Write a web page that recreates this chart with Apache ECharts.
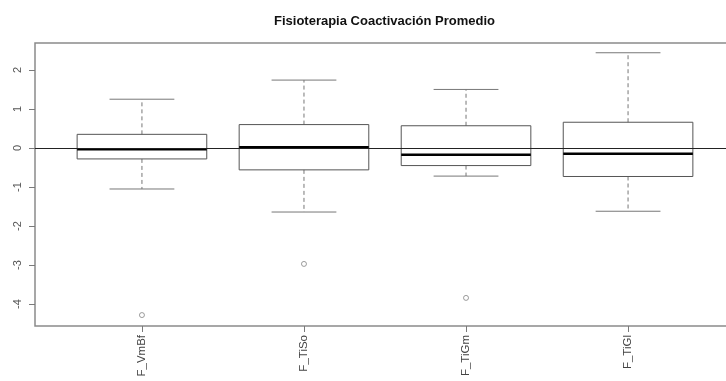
<!DOCTYPE html>
<html>
<head>
<meta charset="utf-8">
<script src="https://cdn.jsdelivr.net/npm/echarts@6/dist/echarts.min.js"></script>
<style>html,body{margin:0;padding:0;background:#fff}#c{width:726px;height:381px}</style>
</head>
<body>
<div id="c"></div>
<script>
const categories = ["F_VmBf", "F_TiSo", "F_TiGm", "F_TiGl"];
const lowerWhisker = [-1.05, -1.64, -0.72, -1.62];
const q1Values = [-0.28, -0.56, -0.45, -0.73];
const medians = [-0.03, 0.02, -0.17, -0.15];
const q3Values = [0.35, 0.60, 0.57, 0.66];
const upperWhisker = [1.25, 1.74, 1.50, 2.44];
const outlierGroup = [1, 2, 3];
const outlierValues = [-4.28, -2.97, -3.84];
const yTicks = [-4, -3, -2, -1, 0, 1, 2];
const xPositions = [1, 2, 3, 4];

const boxData = categories.map((c, i) => [xPositions[i], lowerWhisker[i], q1Values[i], medians[i], q3Values[i], upperWhisker[i]]);
const outData = outlierGroup.map((g, i) => [g, outlierValues[i]]);

const chart = echarts.init(document.getElementById('c'), null, {renderer: 'canvas'});
const gray = '#7a7a7a';
chart.setOption({
  animation: false,
  backgroundColor: '#fff',
  title: {
    text: 'Fisioterapia Coactivación Promedio',
    left: 269, top: 10,
    textStyle: {fontFamily: 'Liberation Sans, Arial', fontSize: 13, fontWeight: 'bold', color: '#111'}
  },
  grid: {left: 35, width: 700, top: 43, bottom: 55, outerBoundsMode: 'none', containLabel: false, show: true, borderColor: '#8a8a8a', borderWidth: 1.5, backgroundColor: 'transparent'},
  xAxis: {
    type: 'value', min: 0.34, max: 4.66,
    position: 'bottom',
    splitLine: {show: false},
    axisLine: {show: false, onZero: false},
    axisTick: {show: true, customValues: xPositions, length: 6, lineStyle: {color: gray, width: 1}},
    axisLabel: {
      customValues: xPositions, rotate: 90, margin: 9,
      fontFamily: 'Liberation Sans, Arial', fontSize: 11.5, color: '#444',
      formatter: v => categories[Math.round(v) - 1] || ''
    }
  },
  yAxis: {
    type: 'value', min: -4.56, max: 2.69,
    position: 'left',
    splitLine: {show: false},
    axisLine: {show: false, onZero: false},
    axisTick: {show: true, customValues: yTicks, length: 6, lineStyle: {color: gray, width: 1}},
    axisLabel: {
      customValues: yTicks, rotate: 90, margin: 12,
      fontFamily: 'Liberation Sans, Arial', fontSize: 11, color: '#555'
    }
  },
  series: [
    {
      type: 'custom',
      data: boxData,
      encode: {x: 0, y: [1, 2, 3, 4, 5]},
      renderItem: function (params, api) {
        const x = api.value(0);
        const pLow = api.coord([x, api.value(1)]);
        const pQ1 = api.coord([x, api.value(2)]);
        const pMed = api.coord([x, api.value(3)]);
        const pQ3 = api.coord([x, api.value(4)]);
        const pHigh = api.coord([x, api.value(5)]);
        const bandW = api.size([1, 0])[0];
        const boxHalf = bandW * 0.4;
        const capHalf = bandW * 0.2;
        const cx = pMed[0];
        const dash = {stroke: '#777', lineWidth: 1, lineDash: [4, 3]};
        return {
          type: 'group',
          children: [
            {type: 'line', shape: {x1: cx, y1: pQ3[1], x2: cx, y2: pHigh[1]}, style: dash},
            {type: 'line', shape: {x1: cx, y1: pQ1[1], x2: cx, y2: pLow[1]}, style: dash},
            {type: 'line', shape: {x1: cx - capHalf, y1: pHigh[1], x2: cx + capHalf, y2: pHigh[1]}, style: {stroke: '#777', lineWidth: 1}},
            {type: 'line', shape: {x1: cx - capHalf, y1: pLow[1], x2: cx + capHalf, y2: pLow[1]}, style: {stroke: '#777', lineWidth: 1}},
            {type: 'rect', shape: {x: cx - boxHalf, y: pQ3[1], width: boxHalf * 2, height: pQ1[1] - pQ3[1]}, style: {fill: 'rgba(255,255,255,0)', stroke: '#555', lineWidth: 1}},
            {type: 'line', shape: {x1: cx - boxHalf, y1: pMed[1], x2: cx + boxHalf, y2: pMed[1]}, style: {stroke: '#000', lineWidth: 2.5}}
          ]
        };
      }
    },
    {
      type: 'scatter',
      data: outData,
      symbol: 'circle',
      symbolSize: 5,
      itemStyle: {color: '#fff', borderColor: '#777', borderWidth: 0.9},
      markLine: {
        silent: true,
        symbol: 'none',
        label: {show: false},
        lineStyle: {color: '#222', width: 1, type: 'solid'},
        data: [{yAxis: 0}]
      }
    }
  ]
});
</script>
</body>
</html>
